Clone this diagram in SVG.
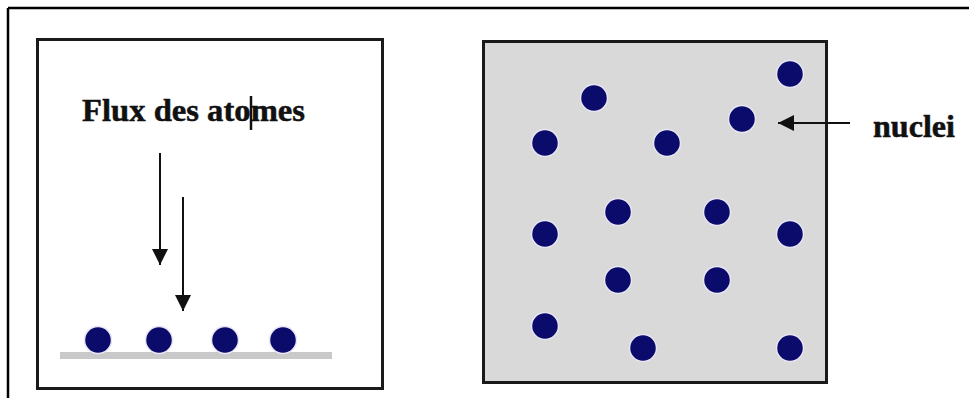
<svg xmlns="http://www.w3.org/2000/svg" width="969" height="398" viewBox="0 0 969 398">
<style>
.lbl{font-family:"Liberation Serif","Times New Roman",serif;font-weight:bold;font-size:32px;fill:#111;stroke:#111;stroke-width:0.5}
.atom{fill:#0b0b6b;stroke:#e6e6f4;stroke-width:1.5}
.box{stroke:#1a1a1a;stroke-width:3}
.arr{stroke:#111;stroke-width:2;fill:none}
</style>
<defs>
<marker id="ah" viewBox="0 0 16 16" refX="16" refY="8" markerWidth="16" markerHeight="16" markerUnits="userSpaceOnUse" orient="auto">
<path d="M0,0 L16,8 L0,16 Z" fill="#111"/>
</marker>
</defs>
<rect width="969" height="398" fill="#fff"/>
<g id="frame">
<line x1="8" y1="8" x2="969" y2="8" stroke="#000" stroke-width="2.5"/>
<line x1="8" y1="8" x2="8" y2="398" stroke="#000" stroke-width="2.5"/>
</g>
<g id="left-panel">
<rect class="box" x="37.5" y="39.5" width="345" height="349" fill="#fff"/>
<rect x="60" y="352" width="272" height="7" fill="#c9c9c9"/>
<text class="lbl" x="82" y="121" textLength="223" lengthAdjust="spacingAndGlyphs">Flux des atomes</text>
<line x1="251" y1="96" x2="251" y2="130" stroke="#111" stroke-width="2.5"/>
<circle class="atom" cx="98" cy="340" r="13.5"/>
<circle class="atom" cx="159" cy="340" r="13.5"/>
<circle class="atom" cx="225" cy="340" r="13.5"/>
<circle class="atom" cx="283" cy="340" r="13.5"/>
</g>
<g id="right-panel">
<rect class="box" x="483.5" y="41.5" width="343" height="341" fill="#d9d9d9"/>
<circle class="atom" cx="790" cy="74" r="13.5"/>
<circle class="atom" cx="594" cy="98" r="13.5"/>
<circle class="atom" cx="742" cy="119" r="13.5"/>
<circle class="atom" cx="545" cy="143" r="13.5"/>
<circle class="atom" cx="667" cy="143" r="13.5"/>
<circle class="atom" cx="618" cy="212" r="13.5"/>
<circle class="atom" cx="717" cy="212" r="13.5"/>
<circle class="atom" cx="545" cy="234" r="13.5"/>
<circle class="atom" cx="790" cy="234" r="13.5"/>
<circle class="atom" cx="618" cy="280" r="13.5"/>
<circle class="atom" cx="717" cy="280" r="13.5"/>
<circle class="atom" cx="545" cy="326" r="13.5"/>
<circle class="atom" cx="643" cy="348" r="13.5"/>
<circle class="atom" cx="790" cy="348" r="13.5"/>
</g>
<g id="nuclei-label">
<text class="lbl" x="873" y="137" textLength="82" lengthAdjust="spacingAndGlyphs">nuclei</text>
</g>
<g id="connectors">
<line class="arr" x1="160" y1="153" x2="160" y2="265" marker-end="url(#ah)" stroke="#333"/>
<line class="arr" x1="183" y1="197" x2="183" y2="311" marker-end="url(#ah)"/>
<line class="arr" x1="850" y1="123" x2="778" y2="123" marker-end="url(#ah)"/>
</g>
</svg>
